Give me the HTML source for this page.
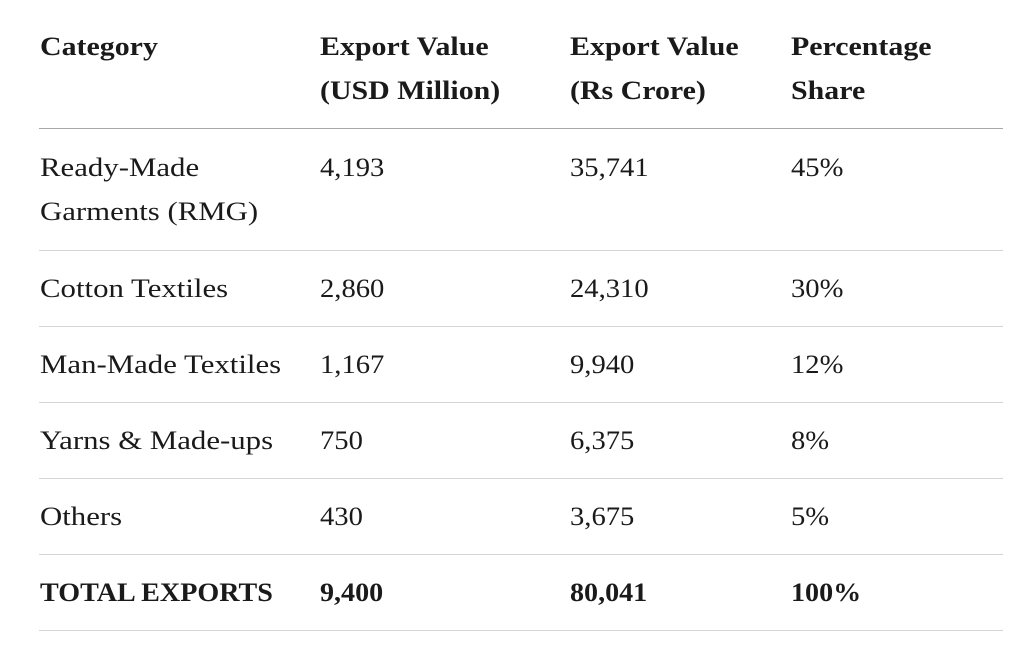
<!DOCTYPE html>
<html><head><meta charset="utf-8"><style>
html,body{margin:0;padding:0;background:#fff;width:1024px;height:653px;overflow:hidden}
body{position:relative;font-family:"Liberation Serif",serif;font-size:26px;color:#1a1a1a}
.t{position:absolute;line-height:44px;white-space:nowrap;transform:scaleX(1.185);transform-origin:0 0}
.n{transform:scaleX(1.1)}
.b{font-weight:bold;transform:scaleX(1.15)}
.bt{font-weight:bold;transform:scaleX(1.08)}
.r{position:absolute;left:39px;width:964px;height:1px;background:#d4d4d4}
</style></head><body>
<div class="t b" style="left:40px;top:25px">Category</div>
<div class="t b" style="left:320px;top:25px">Export Value<br>(USD Million)</div>
<div class="t b" style="left:570px;top:25px">Export Value<br>(Rs Crore)</div>
<div class="t b" style="left:791px;top:25px">Percentage<br>Share</div>
<div class="r" style="top:128px;background:#a8a8a8"></div>

<div class="t" style="left:40px;top:146px">Ready-Made<br>Garments (RMG)</div>
<div class="t n" style="left:320px;top:146px">4,193</div>
<div class="t n" style="left:570px;top:146px">35,741</div>
<div class="t n" style="left:791px;top:146px">45%</div>
<div class="r" style="top:250px"></div>

<div class="t" style="left:40px;top:267px">Cotton Textiles</div>
<div class="t n" style="left:320px;top:267px">2,860</div>
<div class="t n" style="left:570px;top:267px">24,310</div>
<div class="t n" style="left:791px;top:267px">30%</div>
<div class="r" style="top:326px"></div>

<div class="t" style="left:40px;top:343px">Man-Made Textiles</div>
<div class="t n" style="left:320px;top:343px">1,167</div>
<div class="t n" style="left:570px;top:343px">9,940</div>
<div class="t n" style="left:791px;top:343px">12%</div>
<div class="r" style="top:402px"></div>

<div class="t" style="left:40px;top:419px">Yarns &amp; Made-ups</div>
<div class="t n" style="left:320px;top:419px">750</div>
<div class="t n" style="left:570px;top:419px">6,375</div>
<div class="t n" style="left:791px;top:419px">8%</div>
<div class="r" style="top:478px"></div>

<div class="t" style="left:40px;top:495px">Others</div>
<div class="t n" style="left:320px;top:495px">430</div>
<div class="t n" style="left:570px;top:495px">3,675</div>
<div class="t n" style="left:791px;top:495px">5%</div>
<div class="r" style="top:554px"></div>

<div class="t bt" style="left:40px;top:571px">TOTAL EXPORTS</div>
<div class="t bt" style="left:320px;top:571px">9,400</div>
<div class="t bt" style="left:570px;top:571px">80,041</div>
<div class="t bt" style="left:791px;top:571px">100%</div>
<div class="r" style="top:630px"></div>
</body></html>
